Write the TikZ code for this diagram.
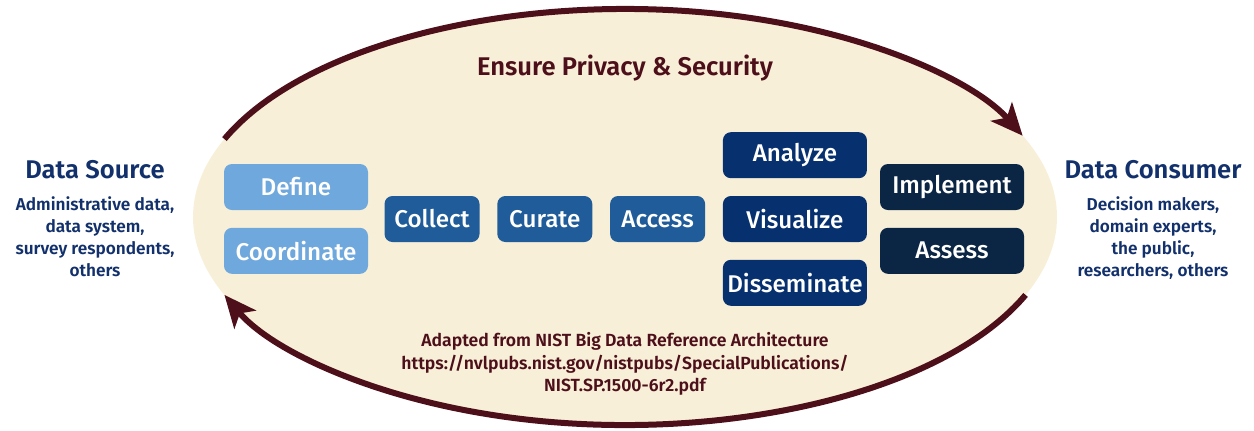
\documentclass[tikz,border=0pt]{standalone}
\usepackage{fontspec}
\setmainfont{Fira Sans}[BoldFont={Fira Sans SemiBold}]
\newfontfamily\boxfont{Fira Sans Medium}
\usepackage{tikz}
\usetikzlibrary{positioning,arrows.meta}
\definecolor{cream}{HTML}{F7EFD8}
\definecolor{maroon}{HTML}{4D0F19}
\definecolor{lightblue}{HTML}{6FA8DC}
\definecolor{midblue}{HTML}{1F5C99}
\definecolor{navy}{HTML}{07306F}
\definecolor{darknavy}{HTML}{0B2545}
\definecolor{inknavy}{HTML}{12306B}
\tikzstyle{stepbox} = [rectangle, rounded corners=4pt, text=white, font=\fontsize{12.1}{14}\boxfont, inner sep=0pt, minimum height=23pt]
\tikzstyle{widebox} = [stepbox, minimum width=72pt]
\tikzstyle{narrowbox} = [stepbox, minimum width=47.5pt]
\tikzstyle{sidetitle} = [text=inknavy, font=\fontsize{12.8}{14}\selectfont\bfseries]
\tikzstyle{sidetext} = [text=inknavy, align=center, font=\fontsize{8.6}{11}\selectfont\bfseries]
\tikzstyle{cyclearrow} = [draw=maroon, line width=3pt, -{Stealth[length=16pt, width=14pt, inset=4pt]}]

\begin{document}
\begin{tikzpicture}[x=0.5pt, y=0.5pt, node distance=8.5pt]
\useasboundingbox (0,0) rectangle (1254,-430);
\coordinate (mid) at (625,-217);
\fill[cream] (mid) ellipse [x radius=432, y radius=208];
\draw[cyclearrow] (mid) ++(158:432 and 208) coordinate (topstart) arc[start angle=158, end angle=23, x radius=432, y radius=208];
\draw[cyclearrow] (mid) ++(-22:432 and 208) coordinate (botstart) arc[start angle=-22, end angle=-158, x radius=432, y radius=208];

\node[text=maroon, font=\fontsize{12.8}{14}\selectfont\bfseries] (privacy) at (625,-68) {Ensure Privacy \& Security};

\node[widebox, fill=lightblue] (define) at (296,-187) {Define};
\node[widebox, fill=lightblue, below=of define] (coordinate) {Coordinate};
\node[narrowbox, fill=midblue] (collect) at (432,-219) {Collect};
\node[narrowbox, fill=midblue, right=of collect] (curate) {Curate};
\node[narrowbox, fill=midblue, right=of curate] (access) {Access};
\node[widebox, fill=navy, right=of access] (visualize) {Visualize};
\node[widebox, fill=navy, above=of visualize] (analyze) {Analyze};
\node[widebox, fill=navy, below=of visualize] (disseminate) {Disseminate};
\node[widebox, fill=darknavy] (implement) at (952,-187) {Implement};
\node[widebox, fill=darknavy, below=of implement] (assess) {Assess};

\node[sidetitle] (source) at (95,-170) {Data Source};
\node[sidetext] (sourcetext) at (95,-237) {Administrative data,\\data system,\\survey respondents,\\others};
\node[sidetitle] (consumer) at (1153,-170) {Data Consumer};
\node[sidetext] (consumertext) at (1153,-238) {Decision makers,\\domain experts,\\the public,\\researchers, others};

\node[text=maroon, align=center, font=\fontsize{8.8}{11.2}\selectfont\bfseries] (credit) at (625,-364) {Adapted from NIST Big Data Reference Architecture\\https://nvlpubs.nist.gov/nistpubs/SpecialPublications/\\NIST.SP.1500-6r2.pdf};
\end{tikzpicture}
\end{document}
